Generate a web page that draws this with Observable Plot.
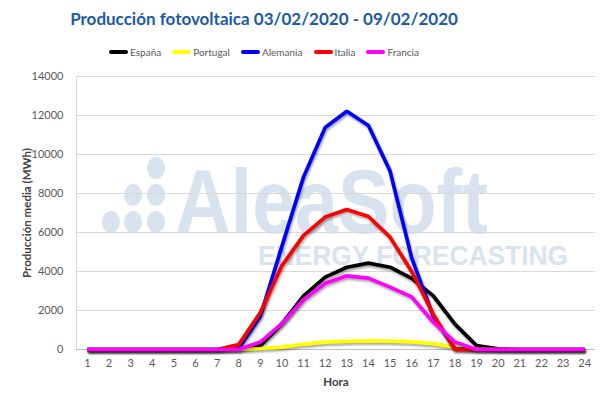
<!DOCTYPE html>
<html>
<head>
<meta charset="utf-8">
<script src="https://cdn.jsdelivr.net/npm/d3@7"></script>
<script src="https://cdn.jsdelivr.net/npm/@observablehq/plot@0.6"></script>
<style>
  html, body { margin: 0; padding: 0; background: #fff; }
  #wrap { position: relative; width: 600px; height: 399px; overflow: hidden; font-family: Lato, "Open Sans", sans-serif; }
  #title { position: absolute; top: 8px; left: 0; width: 528px; text-align: center; font-weight: bold; font-size: 17px; color: #1c5aa6; }
  #legend { position: absolute; top: 46px; left: 0; width: 528px; display: flex; justify-content: center; gap: 11px; font-size: 10px; color: #595959; }
  #legend .item { display: flex; align-items: center; }
  #legend .sw { width: 19px; height: 4px; border-radius: 2px; margin-right: 2px; }
  #wm { position: absolute; left: 0; top: 0; }
  #chart { position: absolute; left: 0; top: 65px; }
  #chart svg { background: transparent !important; }
  #chart g[aria-label="line"] path { filter: drop-shadow(1px 2px 1.2px rgba(0,0,0,0.35)); }
</style>
</head>
<body>
<div id="wrap">
  <svg id="wm" width="600" height="399">
    <g fill="#d9e3f0">
      <ellipse cx="156" cy="168" rx="9" ry="11"></ellipse>
      <ellipse cx="133" cy="195" rx="9" ry="11"></ellipse>
      <ellipse cx="156" cy="195" rx="9" ry="11"></ellipse>
      <ellipse cx="111" cy="222" rx="9" ry="11"></ellipse>
      <ellipse cx="133" cy="222" rx="9" ry="11"></ellipse>
      <ellipse cx="156" cy="222" rx="9" ry="11"></ellipse>
      <text x="175" y="233" font-family="Liberation Sans, Arial, sans-serif" font-weight="bold" font-size="90" textLength="313" lengthAdjust="spacingAndGlyphs">AleaSoft</text>
      <text x="258" y="265" font-family="Liberation Sans, Arial, sans-serif" font-weight="bold" font-size="27" textLength="310" lengthAdjust="spacingAndGlyphs">ENERGY FORECASTING</text>
    </g>
  </svg>
  <div id="title">Producción fotovoltaica 03/02/2020 - 09/02/2020</div>
  <div id="legend"></div>
  <div id="chart"></div>
</div>
<script>
const hours = [1,2,3,4,5,6,7,8,9,10,11,12,13,14,15,16,17,18,19,20,21,22,23,24];
const yTicks = [0,2000,4000,6000,8000,10000,12000,14000];
const seriesNames = ["España","Portugal","Alemania","Italia","Francia"];
const seriesColors = ["#000000","#ffff00","#0000ff","#ff0000","#ff00ff"];
const espana   = [0,0,0,0,0,0,0,30,200,1330,2750,3710,4220,4430,4220,3650,2750,1300,200,30,0,0,0,0];
const portugal = [0,0,0,0,0,0,0,0,50,120,280,380,420,440,430,390,300,120,20,0,0,0,0,0];
const alemania = [0,0,0,0,0,0,0,50,1700,5300,8850,11380,12220,11490,9150,4700,1700,30,0,0,0,0,0,0];
const italia   = [0,0,0,0,0,0,0,250,1900,4300,5850,6790,7180,6820,5760,4000,1800,0,0,0,0,0,0,0];
const francia  = [0,0,0,0,0,0,0,0,380,1330,2550,3400,3780,3660,3200,2700,1400,380,0,0,0,0,0,0];

const valuesBySeries = [espana, portugal, alemania, italia, francia];
const data = seriesNames.flatMap((name, i) => hours.map((h, j) => ({serie: name, hora: h, valor: valuesBySeries[i][j]})));

// legend
const legend = document.getElementById("legend");
seriesNames.forEach((n, i) => {
  const it = document.createElement("div");
  it.className = "item";
  it.innerHTML = `<span class="sw" style="background:${seriesColors[i]}"></span><span>${n}</span>`;
  legend.appendChild(it);
});

const chart = Plot.plot({
  width: 600,
  height: 334,
  marginTop: 11,
  marginBottom: 50,
  marginLeft: 76,
  marginRight: 5,
  style: {fontFamily: "Lato, 'Open Sans', sans-serif", fontSize: "11px", color: "#595959", background: "transparent"},
  x: {domain: [0.5, 24.5]},
  y: {domain: [0, 14000]},
  color: {domain: seriesNames, range: seriesColors},
  marks: [
    Plot.gridY(yTicks, {stroke: "#d9d9d9", strokeOpacity: 1, strokeWidth: 1}),
    Plot.ruleX([0.5], {stroke: "#d9d9d9"}),
    Plot.ruleY([0], {stroke: "#bfbfbf"}),
    Plot.axisX({ticks: hours, tickSize: 0, tickPadding: 10, tickFormat: d => String(d), label: "Hora", labelAnchor: "center", labelArrow: "none", labelOffset: 36, fill: "#595959"}),
    Plot.axisY({ticks: yTicks, tickSize: 0, tickPadding: 13, tickFormat: d => String(d), label: "Producción media (MWh)", labelAnchor: "center", labelArrow: "none", labelOffset: 54, fill: "#595959"}),
    Plot.line(data, {x: "hora", y: "valor", z: "serie", stroke: "serie", strokeWidth: 3.7, strokeLinejoin: "miter", strokeLinecap: "butt"})
  ]
});
document.getElementById("chart").appendChild(chart);
chart.querySelectorAll('g[aria-label="x-axis label"] text, g[aria-label="y-axis label"] text').forEach(t => {
  t.style.fontWeight = "bold"; t.style.fill = "#404040"; t.style.fontSize = "11.5px";
});
</script>
</body>
</html>
